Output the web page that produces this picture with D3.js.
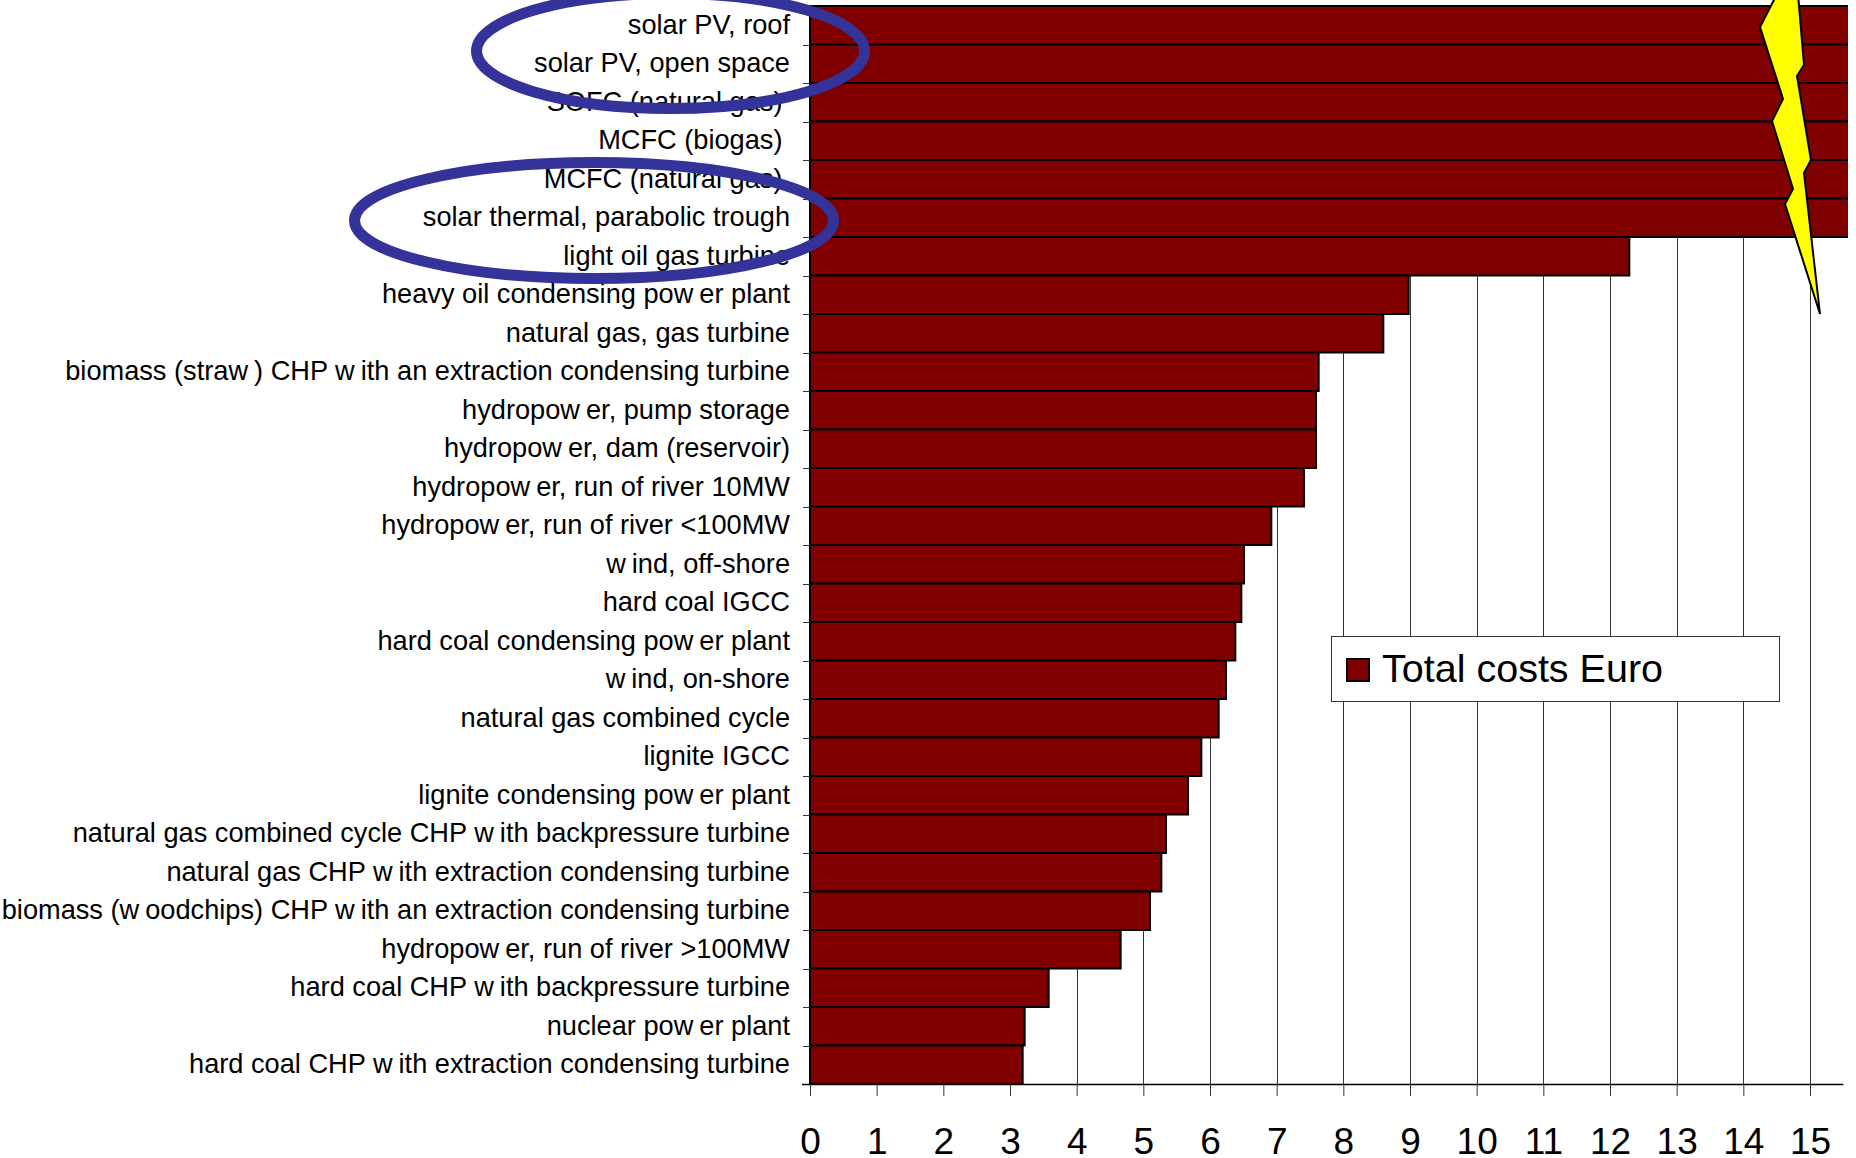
<!DOCTYPE html>
<html>
<head>
<meta charset="utf-8">
<script src="https://cdn.jsdelivr.net/npm/d3@7"></script>
<style>
  html, body { margin: 0; background: #fff; }
  text { font-family: "Liberation Sans", Arial, sans-serif; fill: #000; }
</style>
</head>
<body>
<div id="chart"></div>
<script>
// \u00a0 keeps the small gap the fuel cell labels have at their right end
const categories = [
  'solar PV, roof',
  'solar PV, open space',
  'SOFC (natural gas)\u00a0',
  'MCFC (biogas)\u00a0',
  'MCFC (natural gas)\u00a0',
  'solar thermal, parabolic trough',
  'light oil gas turbine',
  'heavy oil condensing power plant',
  'natural gas, gas turbine',
  'biomass (straw) CHP with an extraction condensing turbine',
  'hydropower, pump storage',
  'hydropower, dam (reservoir)',
  'hydropower, run of river 10MW',
  'hydropower, run of river <100MW',
  'wind, off-shore',
  'hard coal IGCC',
  'hard coal condensing power plant',
  'wind, on-shore',
  'natural gas combined cycle',
  'lignite IGCC',
  'lignite condensing power plant',
  'natural gas combined cycle CHP with backpressure turbine',
  'natural gas CHP with extraction condensing turbine',
  'biomass (woodchips) CHP with an extraction condensing turbine',
  'hydropower, run of river >100MW',
  'hard coal CHP with backpressure turbine',
  'nuclear power plant',
  'hard coal CHP with extraction condensing turbine'
];

// the first six run off the end of the axis, so they stop at its limit
const totalCosts = [
  15.57, 15.57, 15.57, 15.57, 15.57, 15.57, 12.29, 8.98, 8.6, 7.63,
  7.59, 7.59, 7.41, 6.92, 6.51, 6.47, 6.38, 6.24, 6.13, 5.87,
  5.67, 5.34, 5.27, 5.1, 4.66, 3.58, 3.22, 3.19
];

const xTicks = d3.range(0, 16);
const legendLabel = 'Total costs Euro';

const width = 1856, height = 1158;
const margin = {left: 810, right: 8, top: 6, bottom: 74};
const barColor = '#800000';

const x = d3.scaleLinear().domain([0, 15.57]).range([margin.left, width - margin.right]);
const y = d3.scaleBand().domain(categories).range([margin.top, height - margin.bottom]);
const axisY = height - margin.bottom;

const svg = d3.select('#chart').append('svg')
  .attr('width', width)
  .attr('height', height)
  .style('display', 'block');

svg.append('defs').append('clipPath').attr('id', 'plot')
  .append('rect')
  .attr('x', margin.left - 2).attr('y', margin.top - 2)
  .attr('width', width - margin.right - margin.left + 2).attr('height', axisY - margin.top + 4);

// gridlines
svg.append('g')
  .attr('stroke', '#333')
  .attr('stroke-width', 1)
  .selectAll('line')
  .data(xTicks.filter(d => d > 0))
  .enter().append('line')
  .attr('x1', d => Math.round(x(d)) + 0.5)
  .attr('x2', d => Math.round(x(d)) + 0.5)
  .attr('y1', margin.top)
  .attr('y2', axisY);

// bars
svg.append('g')
  .attr('clip-path', 'url(#plot)')
  .attr('fill', barColor)
  .attr('stroke', '#000')
  .attr('stroke-width', 2)
  .selectAll('rect')
  .data(categories)
  .enter().append('rect')
  .attr('x', x(0))
  .attr('y', d => y(d))
  .attr('width', (d, i) => x(totalCosts[i]) - x(0) + (totalCosts[i] >= 15.57 ? 4 : 0))
  .attr('height', y.bandwidth());

// category labels, with the wide gap this font shows after each "w"
const yAxis = d3.axisLeft(y).tickSize(0).tickPadding(20).tickFormat(() => '');
const yAxisG = svg.append('g')
  .attr('transform', `translate(${margin.left},0)`)
  .call(yAxis);
yAxisG.select('.domain').remove();
yAxisG.selectAll('.tick text')
  .data(categories)
  .style('font-size', '27.2px')
  .each(function (d) {
    const label = d3.select(this);
    d.split(/(?<=w)/).forEach((part, i) => {
      label.append('tspan').attr('dx', i ? 6 : 0).text(part);
    });
  });

// tick marks sit on the band edges
svg.append('g')
  .attr('stroke', '#333')
  .attr('stroke-width', 1)
  .selectAll('line')
  .data(categories)
  .enter().append('line')
  .attr('x1', margin.left - 7)
  .attr('x2', margin.left)
  .attr('y1', d => Math.round(y(d) + y.step()) + 0.5)
  .attr('y2', d => Math.round(y(d) + y.step()) + 0.5);

// value axis, its line runs from the category ticks to just past 15
const xAxis = d3.axisBottom(x).tickValues(xTicks).tickFormat(d3.format('d'))
  .tickSizeInner(12).tickSizeOuter(0).tickPadding(32);
const xAxisG = svg.append('g')
  .attr('transform', `translate(0,${axisY})`)
  .call(xAxis);
xAxisG.select('.domain')
  .attr('d', `M${margin.left - 8},0.5H${x(15.5)}`)
  .attr('stroke', '#000')
  .attr('stroke-width', 1.5);
xAxisG.selectAll('.tick line').attr('stroke', '#333');
xAxisG.selectAll('.tick text').style('font-size', '37px');

// legend
const legend = svg.append('g');
legend.append('rect')
  .attr('x', 1331.5).attr('y', 636.5)
  .attr('width', 448).attr('height', 65)
  .attr('fill', '#fff').attr('stroke', '#333');
legend.append('rect')
  .attr('x', 1347).attr('y', 659)
  .attr('width', 22).attr('height', 22)
  .attr('fill', barColor).attr('stroke', '#000').attr('stroke-width', 2);
legend.append('text')
  .attr('x', 1382).attr('y', 682)
  .style('font-size', '39.5px')
  .text(legendLabel);

// highlight rings around the solar technologies
const rings = svg.append('g')
  .attr('fill', 'none')
  .attr('stroke', '#333399')
  .attr('stroke-width', 11);
rings.append('ellipse')
  .attr('cx', 670.5).attr('cy', 51).attr('rx', 194).attr('ry', 57.5);
rings.append('ellipse')
  .attr('cx', 594).attr('cy', 220.5).attr('rx', 239.5).attr('ry', 58);

// lightning bolt across the axis break
const bolt = [
  [1777, -6], [1760, 27], [1783, 99], [1772, 121], [1793, 189], [1785, 204],
  [1820, 314], [1804, 173], [1811, 160], [1797, 76], [1804, 65], [1798, -6]
];
svg.append('path')
  .attr('d', d3.line()(bolt) + 'Z')
  .attr('fill', '#ffff00')
  .attr('stroke', '#000')
  .attr('stroke-width', 2);
</script>
</body>
</html>
